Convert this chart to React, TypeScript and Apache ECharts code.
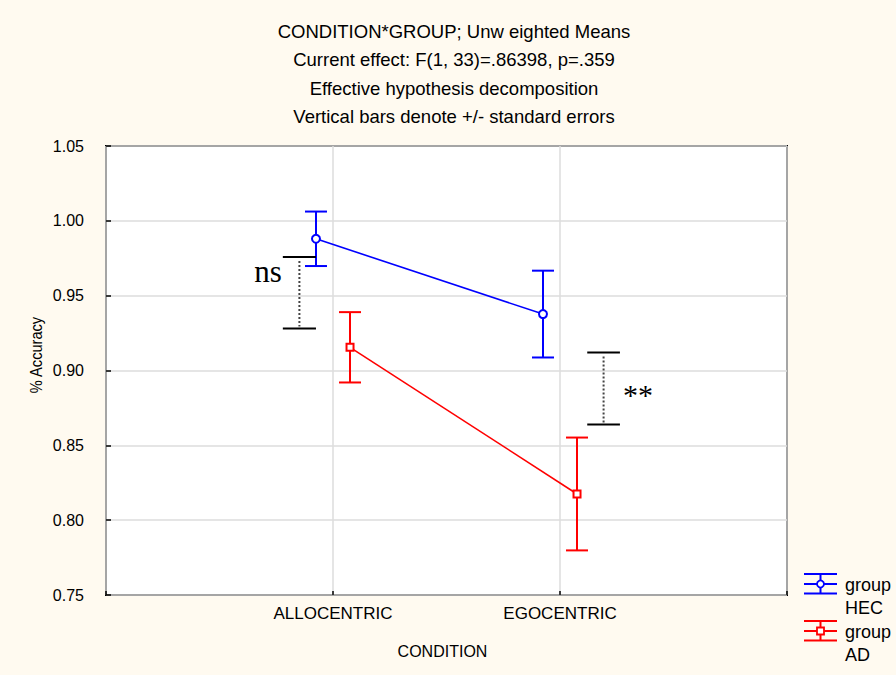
import React, { useEffect, useRef } from 'react';
import * as echarts from 'echarts';

// ---- data ----
const categories = ['ALLOCENTRIC', 'EGOCENTRIC'];
const groupNames = ['HEC', 'AD'];
const hecMeans = [0.988, 0.9377];
const hecSE = [0.0182, 0.029];
const adMeans = [0.9155, 0.8175];
const adSE = [0.0235, 0.0377];
const yTickValues = [0.75, 0.8, 0.85, 0.9, 0.95, 1.0, 1.05];
const titleLines = [
  'CONDITION*GROUP; Unw eighted Means',
  'Current effect: F(1, 33)=.86398, p=.359',
  'Effective hypothesis decomposition',
  'Vertical bars denote +/- standard errors',
];
// comparison brackets (per category)
const bracketCategoryIndex = [0, 1];
const bracketLow = [0.928, 0.8639];
const bracketHigh = [0.9759, 0.912];
const bracketLabels = ['ns', '**'];

// ---- layout constants ----
const DODGE = 0.075;
const BRACKET_OFFSETS = [
  [-0.221, -0.075],
  [0.12, 0.264],
];
const BLUE = '#0000ff';
const RED = '#ff0000';
const SANS = '"Liberation Sans", Arial, sans-serif';
const SERIF = '"Liberation Serif", "Times New Roman", serif';

function errorBarSeries(name: string, means: number[], se: number[], offset: number, color: string) {
  return {
    type: 'custom',
    name: name + '-err',
    z: 4,
    encode: { x: 0, y: [1, 2] },
    data: means.map((m, i) => [i + 1 + offset, m - se[i], m + se[i]]),
    renderItem: (params: any, api: any) => {
      const x = api.value(0);
      const lo = api.coord([x, api.value(1)]);
      const hi = api.coord([x, api.value(2)]);
      const half = 11;
      const style = { stroke: color, lineWidth: 2, fill: null };
      return {
        type: 'group',
        children: [
          { type: 'line', shape: { x1: lo[0], y1: lo[1], x2: hi[0], y2: hi[1] }, style },
          { type: 'line', shape: { x1: lo[0] - half, y1: lo[1], x2: lo[0] + half, y2: lo[1] }, style },
          { type: 'line', shape: { x1: hi[0] - half, y1: hi[1], x2: hi[0] + half, y2: hi[1] }, style },
        ],
      };
    },
  };
}

export default function App() {
  const ref = useRef<HTMLDivElement>(null);
  useEffect(() => {
    document.body.style.margin = '0';
    const chart = echarts.init(ref.current!, null, { renderer: 'svg' });

    const lineSeries = (name: string, means: number[], offset: number, color: string, symbol: string, size: number) => ({
      type: 'line',
      name,
      z: 5,
      data: means.map((m, i) => [i + 1 + offset, m]),
      symbol,
      symbolSize: size,
      showSymbol: true,
      lineStyle: { color, width: 1.6 },
      itemStyle: { color, borderColor: color, borderWidth: 1.6 },
    });

    const bracketSeries = {
      type: 'custom',
      name: 'brackets',
      z: 6,
      encode: { x: 0, y: [1, 2] },
      data: bracketCategoryIndex.map((c, i) => [c + 1 + BRACKET_OFFSETS[i][0], bracketLow[i], bracketHigh[i], c + 1 + BRACKET_OFFSETS[i][1]]),
      renderItem: (params: any, api: any) => {
        const i = params.dataIndex;
        const x1 = api.value(0);
        const x2 = api.value(3);
        const lo1 = api.coord([x1, api.value(1)]);
        const hi1 = api.coord([x1, api.value(2)]);
        const lo2 = api.coord([x2, api.value(1)]);
        const xm = (lo1[0] + lo2[0]) / 2;
        const solid = { stroke: '#000', lineWidth: 2, fill: null };
        const label = bracketLabels[i];
        const isLeft = i === 0;
        const text = isLeft
          ? {
              type: 'text',
              style: {
                text: label, x: lo1[0] - 1, y: hi1[1] + 15,
                align: 'right', verticalAlign: 'middle', textAlign: 'right', textVerticalAlign: 'middle',
                font: '31px ' + SERIF, fill: '#000',
              },
            }
          : {
              type: 'text',
              style: {
                text: label, x: lo2[0] + 3, y: (lo1[1] + hi1[1]) / 2 + 6,
                align: 'left', verticalAlign: 'middle', textAlign: 'left', textVerticalAlign: 'middle',
                font: '30px ' + SERIF, fill: '#000',
              },
            };
        return {
          type: 'group',
          children: [
            { type: 'line', shape: { x1: lo1[0], y1: hi1[1], x2: lo2[0], y2: hi1[1] }, style: solid },
            { type: 'line', shape: { x1: lo1[0], y1: lo1[1], x2: lo2[0], y2: lo1[1] }, style: solid },
            { type: 'line', shape: { x1: xm, y1: hi1[1] + 4, x2: xm, y2: lo1[1] - 2 }, style: { stroke: '#444', lineWidth: 2, lineDash: [2, 2], fill: null } },
            text,
          ],
        };
      },
    };

    const legendItem = (y: number, color: string, marker: any, name: string) => {
      const x1 = 804, x2 = 837, xc = 820.5;
      const st = { stroke: color, lineWidth: 2 };
      return [
        { type: 'line', shape: { x1, y1: y - 10, x2, y2: y - 10 }, style: st },
        { type: 'line', shape: { x1, y1: y, x2, y2: y }, style: st },
        { type: 'line', shape: { x1, y1: y + 9.5, x2, y2: y + 9.5 }, style: st },
        { type: 'line', shape: { x1: xc, y1: y - 10, x2: xc, y2: y + 9.5 }, style: st },
        marker(xc, y),
        { type: 'text', x: 845, y: y + 1, style: { text: 'group', font: '18px ' + SANS, fill: '#000', align: 'left', verticalAlign: 'middle', textAlign: 'left', textVerticalAlign: 'middle' } },
        { type: 'text', x: 845, y: y + 24, style: { text: name, font: '18px ' + SANS, fill: '#000', align: 'left', verticalAlign: 'middle', textAlign: 'left', textVerticalAlign: 'middle' } },
      ];
    };

    chart.setOption({
      animation: false,
      backgroundColor: '#fffaf0',
      title: {
        text: titleLines.join('\n'),
        left: 454,
        top: 17,
        padding: 0,
        textAlign: 'center',
        textStyle: { fontFamily: SANS, fontSize: 18.5, fontWeight: 'normal', color: '#000', lineHeight: 28.5 },
      },
      grid: {
        left: 106, right: 109, top: 146, bottom: 80,
        show: true, backgroundColor: '#ffffff', borderColor: '#000', borderWidth: 2,
      },
      xAxis: {
        type: 'value',
        min: 0,
        max: categories.length + 1,
        interval: 1,
        name: 'CONDITION',
        nameLocation: 'middle',
        nameGap: 44,
        nameTextStyle: { fontFamily: SANS, fontSize: 16, color: '#000', padding: [4, 8, 0, 0] },
        axisLine: { show: false },
        axisTick: { show: true, inside: true, length: 4, lineStyle: { color: '#000', width: 1.5 } },
        axisLabel: {
          fontFamily: SANS, fontSize: 17, color: '#000', margin: 10,
          formatter: (v: number) => (v >= 1 && v <= categories.length ? categories[v - 1] : ''),
        },
        splitLine: { show: true, lineStyle: { color: '#dcdcdc', width: 1.5 } },
      },
      yAxis: {
        type: 'value',
        min: yTickValues[0],
        max: yTickValues[yTickValues.length - 1],
        interval: 0.05,
        axisLine: { show: false },
        axisTick: { show: true, inside: true, length: 5, lineStyle: { color: '#000', width: 1.5 } },
        axisLabel: {
          fontFamily: SANS, fontSize: 16, color: '#000', margin: 22,
          formatter: (v: number) => v.toFixed(2),
        },
        splitLine: { show: true, lineStyle: { color: '#dcdcdc', width: 1.5 } },
      },
      graphic: [
        {
          type: 'text', x: 36, y: 355, rotation: Math.PI / 2, scaleX: 0.86,
          style: { text: '% Accuracy', font: '17px ' + SANS, fill: '#000', align: 'center', verticalAlign: 'middle', textAlign: 'center', textVerticalAlign: 'middle' },
        },
        ...legendItem(584, BLUE, (x: number, y: number) => ({ type: 'circle', shape: { cx: x, cy: y, r: 3.5 }, style: { stroke: BLUE, lineWidth: 1.8, fill: '#fff' } }), groupNames[0]),
        ...legendItem(631, RED, (x: number, y: number) => ({ type: 'rect', shape: { x: x - 3.5, y: y - 3.5, width: 7, height: 7 }, style: { stroke: RED, lineWidth: 1.8, fill: '#fff' } }), groupNames[1]),
      ],
      series: [
        lineSeries('group ' + groupNames[0], hecMeans, -DODGE, BLUE, 'emptyCircle', 8),
        lineSeries('group ' + groupNames[1], adMeans, DODGE, RED, 'emptyRect', 7),
        errorBarSeries('HEC', hecMeans, hecSE, -DODGE, BLUE),
        errorBarSeries('AD', adMeans, adSE, DODGE, RED),
        bracketSeries,
      ],
    });
    return () => chart.dispose();
  }, []);
  return <div ref={ref} style={{ width: 896, height: 675, background: '#fffaf0' }} />;
}
